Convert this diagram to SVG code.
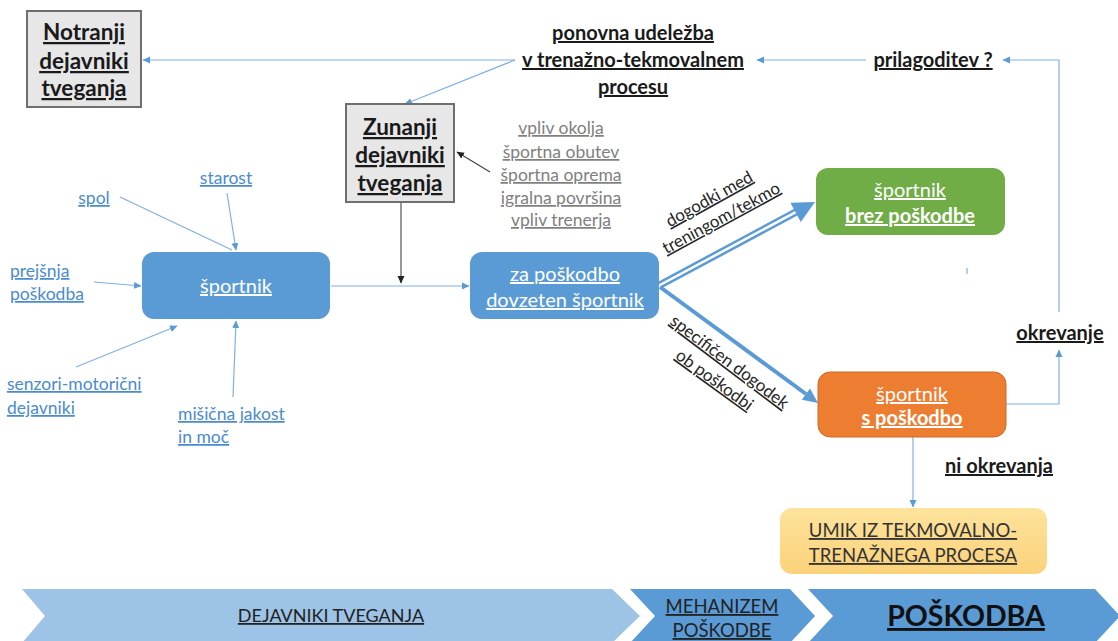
<svg xmlns="http://www.w3.org/2000/svg" width="1118" height="641" viewBox="0 0 1118 641">
<defs>
<style>
text{font-family:Lato,"Open Sans",sans-serif;text-decoration:underline;}
.bk{fill:#1a1a1a;font-weight:bold;}
.gr{fill:#7f7f7f;font-size:17.5px;}
.lb{fill:#4a8bd0;font-size:17.5px;}
.wh{fill:#ffffff;font-size:20px;}
.dk{fill:#262626;font-size:17px;}
.ln{fill:none;stroke:#80b0e2;stroke-width:1.2;}
.lnd{fill:none;stroke:#404040;stroke-width:1.1;}
</style>
<marker id="ab" markerUnits="userSpaceOnUse" markerWidth="8" markerHeight="8" viewBox="0 0 8 8" refX="7" refY="4" orient="auto"><path d="M0,0.5 L7.5,4 L0,7.5 Z" fill="#5b9bd5"/></marker>
<marker id="ad" markerUnits="userSpaceOnUse" markerWidth="8" markerHeight="8" viewBox="0 0 8 8" refX="7" refY="4" orient="auto"><path d="M0,0.5 L7.5,4 L0,7.5 Z" fill="#222"/></marker>
<linearGradient id="gy" x1="0" y1="0" x2="0" y2="1"><stop offset="0" stop-color="#fde39c"/><stop offset="1" stop-color="#fbd27a"/></linearGradient>
</defs>

<g id="connectors">
<path class="ln" d="M515,60 H143" marker-end="url(#ab)"/>
<path class="ln" d="M515,60 L405,104" marker-end="url(#ab)"/>
<path class="ln" d="M866,60 H757" marker-end="url(#ab)"/>
<path class="ln" d="M1059,312 V60 H1003" marker-end="url(#ab)"/>
<path class="ln" d="M1006,404 H1059 V350" marker-end="url(#ab)"/>
<path class="ln" d="M913,437 V507" marker-end="url(#ab)"/>
<path class="lnd" d="M401,202 V283" marker-end="url(#ad)"/>
<path class="lnd" d="M490,172 L457,152" marker-end="url(#ad)"/>
<path class="ln" d="M331,286 H469" marker-end="url(#ab)"/>
<path class="ln" d="M120,197 L232,250"/>
<path class="ln" d="M227,193 L236,250" marker-end="url(#ab)"/>
<path class="ln" d="M94,282 L141,286" marker-end="url(#ab)"/>
<path class="ln" d="M76,367 L177,326" marker-end="url(#ab)"/>
<path class="ln" d="M233,397 L236,321" marker-end="url(#ab)"/>
<path class="ln" d="M967,268 V274"/>
<!-- double arrow to green -->
<path d="M660,285 L797,211.5" fill="none" stroke="#5b9bd5" stroke-width="7.5"/>
<path d="M660,285 L799,210.4" fill="none" stroke="#ffffff" stroke-width="2.5"/>
<path d="M815,202 L800.8,222.1 L790.4,202.7 Z" fill="#5b9bd5"/>
<!-- thick arrow to orange -->
<path d="M660,287 L806,394" fill="none" stroke="#5b9bd5" stroke-width="4"/>
<path d="M818,403 L801.8,399.7 L810,388.5 Z" fill="#5b9bd5"/>
<g class="dk">
<text transform="translate(710,200.5) rotate(-29)" x="0" y="4" text-anchor="middle">dogodki med</text>
<text transform="translate(722,219.5) rotate(-28.5)" x="0" y="4" text-anchor="middle">treningom/tekmo</text>
<text transform="translate(728.6,363.2) rotate(37)" x="0" y="4" text-anchor="middle">specifičen dogodek</text>
<text transform="translate(713.6,381.2) rotate(36)" x="0" y="4" text-anchor="middle">ob poškodbi</text>
</g>
</g>

<g id="notranji">
<rect x="27" y="11" width="114" height="96" fill="#e7e7e7" stroke="#6f6f6f" stroke-width="2"/>
<text class="bk" font-size="22.5" x="84" y="40" text-anchor="middle">Notranji</text>
<text class="bk" font-size="22.5" x="84" y="69" text-anchor="middle">dejavniki</text>
<text class="bk" font-size="22.5" x="84" y="96" text-anchor="middle">tveganja</text>
</g>

<g id="ponovna">
<text class="bk" font-size="20" x="633" y="40" text-anchor="middle">ponovna udeležba</text>
<text class="bk" font-size="20" x="633" y="67" text-anchor="middle">v trenažno-tekmovalnem</text>
<text class="bk" font-size="20" x="633" y="94" text-anchor="middle">procesu</text>
</g>

<g id="prilagoditev">
<text class="bk" font-size="20" x="933" y="67" text-anchor="middle">prilagoditev ?</text>
</g>

<g id="zunanji">
<rect x="346" y="104" width="108" height="98" fill="#e7e7e7" stroke="#6f6f6f" stroke-width="2"/>
<text class="bk" font-size="22.5" x="400" y="135" text-anchor="middle">Zunanji</text>
<text class="bk" font-size="22.5" x="400" y="163" text-anchor="middle">dejavniki</text>
<text class="bk" font-size="22.5" x="400" y="191" text-anchor="middle">tveganja</text>
</g>

<g id="zunanji-list">
<text class="gr" x="561" y="134" text-anchor="middle">vpliv okolja</text>
<text class="gr" x="561" y="158" text-anchor="middle">športna obutev</text>
<text class="gr" x="561" y="181" text-anchor="middle">športna oprema</text>
<text class="gr" x="561" y="204" text-anchor="middle">igralna površina</text>
<text class="gr" x="561" y="226" text-anchor="middle">vpliv trenerja</text>
</g>

<g id="left-labels">
<text class="lb" x="226" y="184" text-anchor="middle">starost</text>
<text class="lb" x="94" y="204" text-anchor="middle">spol</text>
<text class="lb" x="10" y="277">prejšnja</text>
<text class="lb" x="10" y="300">poškodba</text>
<text class="lb" x="7" y="390">senzori-motorični</text>
<text class="lb" x="7" y="414">dejavniki</text>
<text class="lb" x="178" y="420">mišična jakost</text>
<text class="lb" x="178" y="443">in moč</text>
</g>

<g id="sportnik">
<rect x="142" y="252" width="188" height="67" rx="12" fill="#5b9bd5"/>
<text class="wh" x="236" y="293" text-anchor="middle">športnik</text>
</g>

<g id="dovzeten">
<rect x="470" y="252" width="189" height="67" rx="12" fill="#5b9bd5"/>
<text class="wh" x="565" y="281" text-anchor="middle">za poškodbo</text>
<text class="wh" x="565" y="307" text-anchor="middle">dovzeten športnik</text>
</g>

<g id="brez">
<rect x="816" y="168" width="189" height="67" rx="12" fill="#70ad47"/>
<text class="wh" x="910" y="197" text-anchor="middle">športnik</text>
<text class="wh" x="910" y="223" text-anchor="middle" font-weight="bold">brez poškodbe</text>
</g>

<g id="s-poskodbo">
<rect x="818" y="372" width="188" height="65" rx="12" fill="#ed7d31" stroke="#d06a25" stroke-width="1"/>
<text class="wh" x="912" y="401" text-anchor="middle">športnik</text>
<text class="wh" x="912" y="425" text-anchor="middle" font-weight="bold">s poškodbo</text>
</g>

<g id="okrevanje">
<text class="bk" font-size="20" x="1060" y="340" text-anchor="middle">okrevanje</text>
</g>

<g id="ni-okrevanja">
<text class="bk" font-size="20" x="999" y="473" text-anchor="middle">ni okrevanja</text>
</g>

<g id="umik">
<rect x="780" y="508" width="267" height="66" rx="12" fill="url(#gy)"/>
<text x="913" y="537" text-anchor="middle" font-size="18.5" fill="#333">UMIK IZ TEKMOVALNO-</text>
<text x="913" y="562" text-anchor="middle" font-size="18.5" fill="#333">TRENAŽNEGA PROCESA</text>
</g>

<g id="chevrons">
<path d="M22,589 L612,589 L640,616 L612,643 L22,643 L45,616 Z" fill="#9dc3e6"/>
<path d="M630,589 L790,589 L815,616 L790,643 L630,643 L655,616 Z" fill="#5b9bd5"/>
<path d="M808,589 L1095,589 L1120,616 L1095,643 L808,643 L833,616 Z" fill="#5b9bd5"/>
<text x="331" y="622" text-anchor="middle" font-size="18" fill="#222">DEJAVNIKI TVEGANJA</text>
<text x="722" y="613" text-anchor="middle" font-size="18.5" fill="#222">MEHANIZEM</text>
<text x="722" y="637" text-anchor="middle" font-size="18.5" fill="#222">POŠKODBE</text>
<text x="966" y="626" text-anchor="middle" font-size="28.5" font-weight="bold" fill="#111">POŠKODBA</text>
</g>
</svg>
